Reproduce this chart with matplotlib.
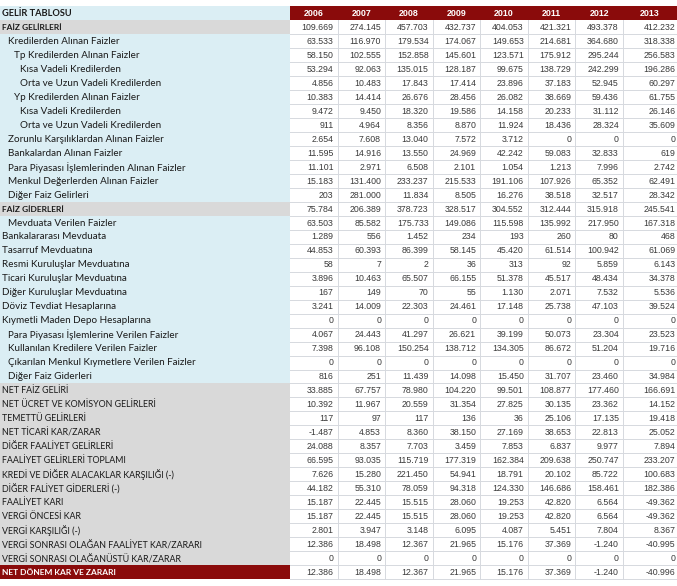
import matplotlib.pyplot as plt
from matplotlib.patches import Rectangle

years = ["2006", "2007", "2008", "2009", "2010", "2011", "2012", "2013"]

labels = [
    "FAİZ GELİRLERİ",
    "Kredilerden Alınan Faizler",
    "Tp Kredilerden Alınan Faizler",
    "Kısa Vadeli Kredilerden",
    "Orta ve Uzun Vadeli Kredilerden",
    "Yp Kredilerden Alınan Faizler",
    "Kısa Vadeli Kredilerden",
    "Orta ve Uzun Vadeli Kredilerden",
    "Zorunlu Karşılıklardan Alınan Faizler",
    "Bankalardan Alınan Faizler",
    "Para Piyasası İşlemlerinden Alınan Faizler",
    "Menkul Değerlerden Alınan Faizler",
    "Diğer Faiz Gelirleri",
    "FAİZ GİDERLERİ",
    "Mevduata Verilen Faizler",
    "Bankalararası Mevduata",
    "Tasarruf Mevduatına",
    "Resmi Kuruluşlar Mevduatına",
    "Ticari Kuruluşlar Mevduatına",
    "Diğer Kuruluşlar Mevduatına",
    "Döviz Tevdiat Hesaplarına",
    "Kıymetli Maden Depo Hesaplarına",
    "Para Piyasası İşlemlerine Verilen Faizler",
    "Kullanılan Kredilere Verilen Faizler",
    "Çıkarılan Menkul Kıymetlere Verilen Faizler",
    "Diğer Faiz Giderleri",
    "NET FAİZ GELİRİ",
    "NET ÜCRET VE KOMİSYON GELİRLERİ",
    "TEMETTÜ GELİRLERİ",
    "NET TİCARİ KAR/ZARAR",
    "DİĞER FAALİYET GELİRLERİ",
    "FAALİYET GELİRLERİ TOPLAMI",
    "KREDİ VE DİĞER ALACAKLAR KARŞILIĞI (-)",
    "DİĞER FALİYET GİDERLERİ (-)",
    "FAALİYET KARI",
    "VERGİ ÖNCESİ KAR",
    "VERGİ KARŞILIĞI (-)",
    "VERGİ SONRASI OLAĞAN FAALİYET KAR/ZARARI",
    "VERGİ SONRASI OLAĞANÜSTÜ KAR/ZARAR",
    "NET DÖNEM KAR VE ZARARI",
]

# hierarchy level of each row (0 = top)
levels = [0, 1, 2, 3, 3, 2, 3, 3, 1, 1, 1, 1, 1,
          0, 1, 0, 0, 0, 0, 0, 0, 0, 1, 1, 1, 1,
          0, 0, 0, 0, 0, 0, 0, 0, 0, 0, 0, 0, 0, 0]

v2006 = [109669, 63533, 58150, 53294, 4856, 10383, 9472, 911, 2654, 11595,
         11101, 15183, 203, 75784, 63503, 1289, 44853, 58, 3896, 167,
         3241, 0, 4067, 7398, 0, 816, 33885, 10392, 117, -1487,
         24088, 66595, 7626, 44182, 15187, 15187, 2801, 12386, 0, 12386]
v2007 = [274145, 116970, 102555, 92063, 10483, 14414, 9450, 4964, 7608, 14916,
         2971, 131400, 281000, 206389, 85582, 556, 60393, 7, 10463, 149,
         14009, 0, 24443, 96108, 0, 251, 67757, 11967, 97, 4853,
         8357, 93035, 15280, 55310, 22445, 22445, 3947, 18498, 0, 18498]
v2008 = [457703, 179534, 152858, 135015, 17843, 26676, 18320, 8356, 13040, 13550,
         6508, 233237, 11834, 378723, 175733, 1452, 86399, 2, 65507, 70,
         22303, 0, 41297, 150254, 0, 11439, 78980, 20559, 117, 8360,
         7703, 115719, 221450, 78059, 15515, 15515, 3148, 12367, 0, 12367]
v2009 = [432737, 174067, 145601, 128187, 17414, 28456, 19586, 8870, 7572, 24969,
         2101, 215533, 8505, 328517, 149086, 234, 58145, 36, 66155, 55,
         24461, 0, 26621, 138712, 0, 14098, 104220, 31354, 136, 38150,
         3459, 177319, 54941, 94318, 28060, 28060, 6095, 21965, 0, 21965]
v2010 = [404053, 149653, 123571, 99675, 23896, 26082, 14158, 11924, 3712, 42242,
         1054, 191106, 16276, 304552, 115598, 193, 45420, 313, 51378, 1130,
         17148, 0, 39199, 134305, 0, 15450, 99501, 27825, 36, 27169,
         7853, 162384, 18791, 124330, 19253, 19253, 4087, 15176, 0, 15176]
v2011 = [421321, 214681, 175912, 138729, 37183, 38669, 20233, 18436, 0, 59083,
         1213, 107926, 38518, 312444, 135992, 260, 61514, 92, 45517, 2071,
         25738, 0, 50073, 86672, 0, 31707, 108877, 30135, 25106, 38653,
         6837, 209638, 20102, 146686, 42820, 42820, 5451, 37369, 0, 37369]
v2012 = [493378, 364680, 295244, 242299, 52945, 59436, 31112, 28324, 0, 32833,
         7996, 65352, 32517, 315918, 217950, 80, 100942, 5859, 48434, 7532,
         47103, 0, 23304, 51204, 0, 23460, 177460, 23362, 17135, 22813,
         9977, 250747, 85722, 158461, 6564, 6564, 7804, -1240, 0, -1240]
v2013 = [412232, 318338, 256583, 196286, 60297, 61755, 26146, 35609, 0, 619,
         2742, 62491, 28342, 245541, 167318, 468, 61069, 6143, 34378, 5536,
         39524, 0, 23523, 19716, 0, 34984, 166691, 14152, 19418, 25052,
         7894, 233207, 100683, 182386, -49362, -49362, 8367, -40995, 0, -40996]

columns = [v2006, v2007, v2008, v2009, v2010, v2011, v2012, v2013]

# row kinds: gray label rows, bold section rows, final red row
gray_rows = {0, 13} | set(range(26, 39))
bold_rows = {0, 13}
final_row = 39
caps_rows = gray_rows | {final_row}

RED = "#8a0b0b"
BLUE = "#dbeef4"
GRAY = "#d9d9d9"
GRID = "#d6d9de"
LABEL_FONT = ["Lato", "DejaVu Sans"]
NUM_FONT = ["Liberation Sans", "DejaVu Sans"]


def fmt(v):
    return f"{v:,}".replace(",", ".")


fig = plt.figure(figsize=(6.77, 5.86), dpi=100)
ax = fig.add_axes([0, 0, 1, 1])
ax.set_xlim(0, 677)
ax.set_ylim(586, 0)
ax.axis("off")

label_w = 290
col_w = 47.55
head_top, head_bot = 6, 20
row_h = 13.98
indent = [2, 8, 14, 20]

col_left = [label_w + k * col_w for k in range(len(years))]
col_right = [x + col_w for x in col_left]
col_right[-1] = 677
n = len(labels)
table_bot = head_bot + n * row_h

# label column background
ax.add_patch(Rectangle((0, head_top), label_w, table_bot - head_top,
                       facecolor=BLUE, edgecolor="none"))

# header
ax.text(indent[0], (head_top + head_bot) / 2 + 0.3, "GELİR TABLOSU", ha="left",
        va="center", fontsize=6.7, fontweight="bold", color="#1a1a1a",
        family=LABEL_FONT)
for k, yr in enumerate(years):
    ax.add_patch(Rectangle((col_left[k], head_top), col_right[k] - col_left[k],
                           head_bot - head_top, facecolor=RED, edgecolor="none"))
    ax.text((col_left[k] + col_right[k]) / 2, (head_top + head_bot) / 2 + 0.5, yr,
            ha="center", va="center", fontsize=6.4, fontweight="bold",
            color="white", family=NUM_FONT)

# rows
for i, lab in enumerate(labels):
    top = head_bot + i * row_h
    mid = top + row_h / 2
    tcolor = "#1a1a1a"
    weight = "normal"
    size = 6.4 if i in caps_rows else 7.1
    if i in bold_rows:
        weight, size = "bold", 6.0
    if i in gray_rows:
        ax.add_patch(Rectangle((0, top), label_w, row_h, facecolor=GRAY,
                               edgecolor="none"))
    if i == final_row:
        ax.add_patch(Rectangle((0, top), label_w, row_h, facecolor=RED,
                               edgecolor="none"))
        tcolor, weight, size = "white", "bold", 6.0
    ax.text(indent[levels[i]], mid + 0.3, lab, ha="left", va="center",
            fontsize=size, fontweight=weight, color=tcolor, family=LABEL_FONT)
    for k, col in enumerate(columns):
        ax.text(col_right[k] - 4 if k < len(years) - 1 else 675.5, mid + 0.3,
                fmt(col[i]), ha="right", va="center", fontsize=6.3,
                color="#3a3a3a", family=NUM_FONT)
    # horizontal grid line in data area
    ax.plot([label_w, 677], [top + row_h, top + row_h], color=GRID, lw=0.7)

# vertical grid lines between data columns
for k in range(1, len(years)):
    ax.plot([col_left[k], col_left[k]], [head_bot, table_bot], color=GRID, lw=0.7)

fig.savefig("out.png", dpi=100)
